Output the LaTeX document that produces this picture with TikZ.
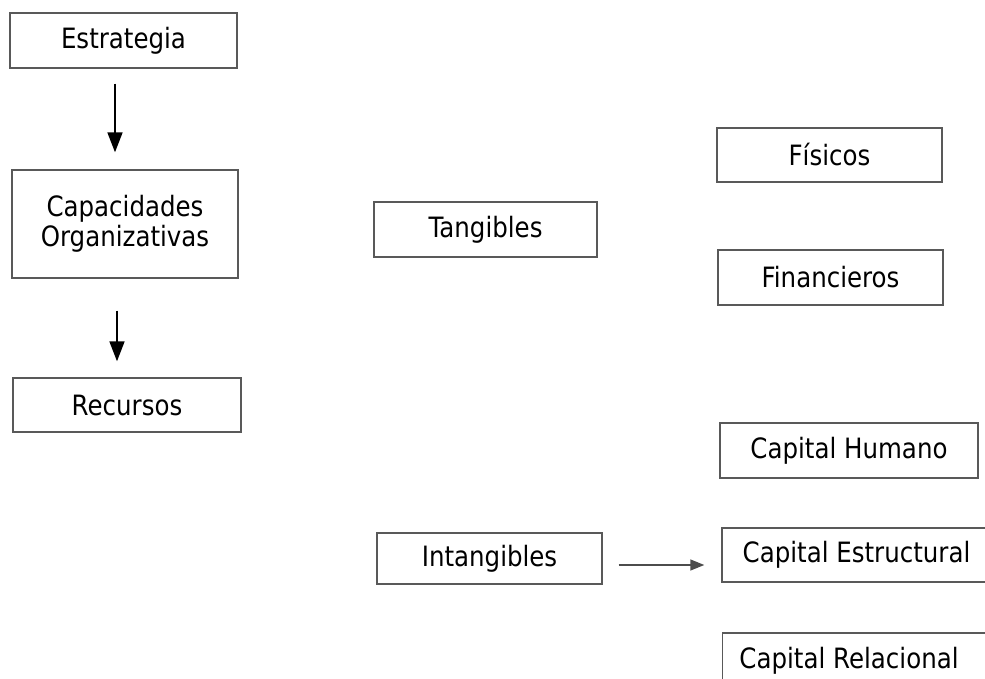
\documentclass[tikz,border=0pt]{standalone}
\usepackage{fontspec}
\setmainfont{DejaVu Sans}[FakeStretch = 0.875]
\usetikzlibrary{arrows.meta}
\usetikzlibrary{shapes}

\begin{document}
\begin{tikzpicture}[x = 1pt, y = -1pt]
\tikzstyle{BoxStyle}=[shape = rectangle,
                      draw = black!65,
                      line width = 1.4pt,
                      minimum width = 225pt,
                      minimum height = 55pt,
                      inner sep = 0pt,
                      align = center,
                      font = \fontsize{28}{29.5}\selectfont]
\tikzstyle{DownArrow}=[line width = 1.8pt, -{Triangle[length = 20pt, width = 15pt]}]
\tikzstyle{SideArrow}=[draw = black!70, line width = 1.4pt, -{Triangle[length = 14pt, width = 11pt]}]
\useasboundingbox (0, 0) rectangle (985, 679);
\clip (0, 0) rectangle (985, 679);
\node[BoxStyle, minimum width = 227pt] (estr) at (123.5, 40.5) {Estrategia};
\node[BoxStyle, minimum width = 226pt, minimum height = 108pt] (capa) at (125, 224) {Capacidades\\Organizativas};
\node[BoxStyle, minimum width = 228pt, minimum height = 54pt] (recu) at (127, 405) {Recursos};
\node[BoxStyle, minimum width = 223pt] (tang) at (485.5, 229.5) {Tangibles};
\node[BoxStyle, minimum height = 51pt] (inta) at (489.5, 558.5) {Intangibles};
\node[BoxStyle, minimum height = 54pt] (fisi) at (829.5, 155) {Físicos};
\node[BoxStyle] (fina) at (830.5, 277.5) {Financieros};
\node[BoxStyle, minimum width = 258pt] (huma) at (849, 450.5) {Capital Humano};
\node[BoxStyle, minimum width = 278pt, minimum height = 54pt] (estu) at (861, 555) {\hspace*{-9pt}Capital Estructural};
\node[BoxStyle, minimum width = 278pt] (rela) at (861.5, 660.5) {\hspace*{-25pt}Capital Relacional};
\draw[DownArrow, shorten <= 15pt, shorten >= 17pt] ([xshift = -8.5pt]estr.south) -- ([xshift = -10pt]capa.north);
\draw[DownArrow, shorten <= 32pt, shorten >= 16pt] ([xshift = -8pt]capa.south) -- ([xshift = -10pt]recu.north);
\draw[SideArrow, shorten <= 16pt, shorten >= 17pt] ([yshift = -6.5pt]inta.east) -- ([yshift = -10pt]estu.west);
\end{tikzpicture}
\end{document}
